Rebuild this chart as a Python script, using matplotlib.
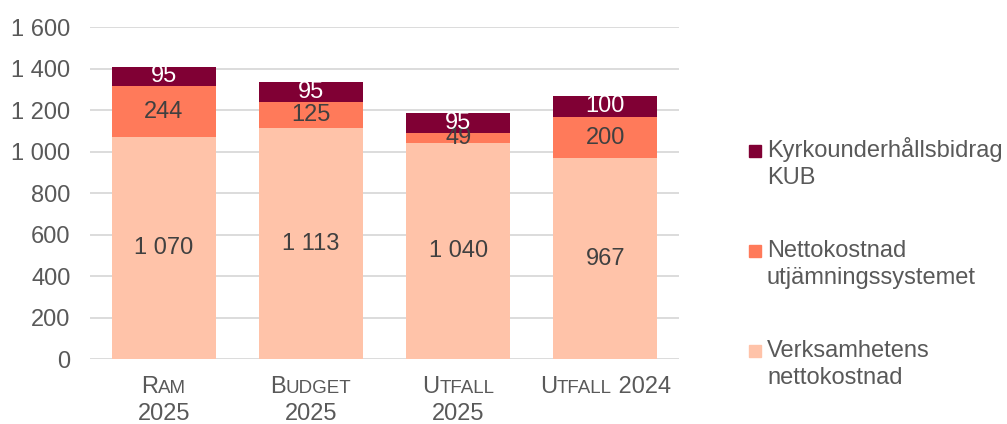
import matplotlib.pyplot as plt
from matplotlib.patches import Rectangle
from matplotlib.offsetbox import TextArea, HPacker, VPacker, AnnotationBbox

plt.rcParams['font.family'] = ['Liberation Sans', 'DejaVu Sans']

# Data
kategorier = ['Ram 2025', 'Budget 2025', 'Utfall 2025', 'Utfall 2024']
verksamhet = [1070, 1113, 1040, 967]
utjamning = [244, 125, 49, 200]
kub = [95, 95, 95, 100]
serienamn = ['Verksamhetens\nnettokostnad',
             'Nettokostnad\nutjämningssystemet',
             'Kyrkounderhållsbidrag\nKUB']
farger = ['#FFC3A9', '#FF7A5A', '#800034']
yticks = [0, 200, 400, 600, 800, 1000, 1200, 1400, 1600]

# small caps label pieces: (text, small?)
etiketter = [
    [[('R', 0), ('AM', 1)], [('2025', 0)]],
    [[('B', 0), ('UDGET', 1)], [('2025', 0)]],
    [[('U', 0), ('TFALL', 1)], [('2025', 0)]],
    [[('U', 0), ('TFALL', 1), (' 2024', 0)]],
]

grå = '#595959'
fs = 17

fig = plt.figure(figsize=(10.07, 4.24), dpi=100)
ax = fig.add_axes([0.0894, 0.1533, 0.5849, 0.7830])

x = list(range(len(kategorier)))
bredd = 0.707
botten = [0] * len(x)
for vals, farg, textfarg in zip([verksamhet, utjamning, kub], farger,
                                ['#404040', '#404040', 'white']):
    ax.bar(x, vals, bredd, bottom=botten, color=farg, zorder=3)
    for i, v in enumerate(vals):
        ax.text(i, botten[i] + v / 2, f'{v:,}'.replace(',', ' '),
                ha='center', va='center', fontsize=fs, color=textfarg, zorder=4)
    botten = [b + v for b, v in zip(botten, vals)]

ax.set_xlim(-0.5, 3.5)
ax.set_ylim(0, 1600)
ax.set_yticks(yticks)
ax.set_yticklabels([f'{t:,}'.replace(',', ' ') for t in yticks])
ax.tick_params(axis='y', length=0, pad=14, labelsize=fs, labelcolor=grå)
ax.set_xticks([])
ax.grid(axis='y', color='#D9D9D9', lw=1.3, zorder=0)
for s in ax.spines.values():
    s.set_visible(False)

# x labels with small caps
for i, rader in enumerate(etiketter):
    radboxar = []
    for rad in rader:
        delar = [TextArea(t, textprops=dict(fontsize=13.5 if liten else fs, color=grå))
                 for t, liten in rad]
        radboxar.append(HPacker(children=delar, align='baseline', pad=0, sep=0))
    box = VPacker(children=radboxar, align='center', pad=0, sep=4)
    ab = AnnotationBbox(box, (i, 0), xycoords=('data', 'axes fraction'),
                        xybox=(0, -12), boxcoords='offset points',
                        box_alignment=(0.5, 1), frameon=False)
    ax.add_artist(ab)

# legend drawn by hand
W, H = 1007, 424
for k, (namn, farg) in enumerate(zip(serienamn[::-1], farger[::-1])):
    bas = 157 + 100 * k
    fig.patches.append(Rectangle((749 / W, 1 - bas / H), 12 / W, 12 / H,
                                 transform=fig.transFigure, color=farg))
    fig.text(767 / W, 1 - (bas + 27) / H, namn, fontsize=fs, color=grå,
             va='baseline', ha='left', linespacing=1.3)

fig.savefig('out.png', dpi=100)
